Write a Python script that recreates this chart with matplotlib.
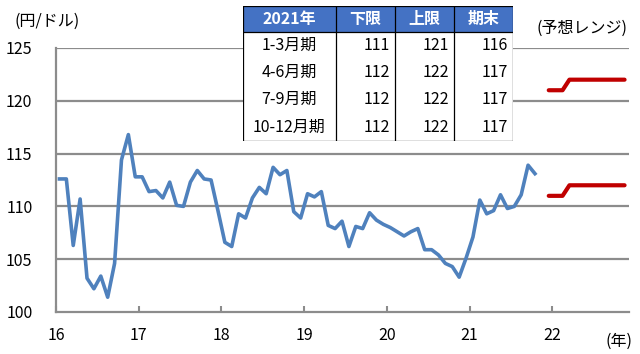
import matplotlib.pyplot as plt
from matplotlib.patches import Rectangle
import numpy as np

plt.rcParams['font.family'] = ['Noto Sans CJK JP', 'DejaVu Sans']

# monthly USD/JPY from Jan 2016 (year = 16 + month/12)
usdjpy = [112.6, 112.6, 106.3, 110.7, 103.2, 102.2, 103.4, 101.4, 104.6, 114.4,
          116.8, 112.8, 112.8, 111.4, 111.5, 110.8, 112.3, 110.1, 110.0, 112.3,
          113.4, 112.6, 112.5, 109.6, 106.6, 106.2, 109.3, 108.9, 110.8, 111.8,
          111.2, 113.7, 113.0, 113.4, 109.5, 108.9, 111.2, 110.9, 111.4, 108.2,
          107.9, 108.6, 106.2, 108.1, 107.9, 109.4, 108.7, 108.3, 108.0, 107.6,
          107.2, 107.6, 107.9, 105.9, 105.9, 105.4, 104.6, 104.3, 103.3, 105.1,
          107.1, 110.6, 109.3, 109.6, 111.1, 109.8, 110.0, 111.1, 113.9, 113.1]

# forecast range, Dec 2021 - Nov 2022
fc_start = 71
fc_upper = [121, 121, 121, 122, 122, 122, 122, 122, 122, 122, 122, 122]
fc_lower = [111, 111, 111, 112, 112, 112, 112, 112, 112, 112, 112, 112]

# table
tbl_header = ["2021年", "下限", "上限", "期末"]
tbl_rows = ["1-3月期", "4-6月期", "7-9月期", "10-12月期"]
tbl_low = [111, 112, 112, 112]
tbl_high = [121, 122, 122, 122]
tbl_end = [116, 117, 117, 117]

x_hist = 16 + (np.arange(len(usdjpy)) + 0.5) / 12
x_fc = 16 + (np.arange(fc_start, fc_start + len(fc_upper)) + 0.5) / 12

fig = plt.figure(figsize=(6.4, 3.54), dpi=100)
ax = fig.add_axes([56 / 640, 1 - 312 / 354, 573 / 640, 264 / 354])

grid_c = "#8c8c8c"
for v in [105, 110, 115, 120, 125]:
    ax.axhline(v, color=grid_c, lw=1.6, zorder=1)

ax.plot(x_hist, usdjpy, color="#4f81bd", lw=2.6, solid_joinstyle="round", zorder=3)
ax.plot(x_fc, fc_upper, color="#c00000", lw=3.0, solid_capstyle="round", zorder=3)
ax.plot(x_fc, fc_lower, color="#c00000", lw=3.0, solid_capstyle="round", zorder=3)

ax.set_xlim(16, 16 + 573 / 82.7)
ax.set_ylim(100, 125)
ax.set_yticks([100, 105, 110, 115, 120, 125])
ax.set_xticks(range(16, 23))
ax.tick_params(axis="y", length=0, pad=17, labelsize=11.5)
ax.tick_params(axis="x", direction="in", length=4, width=1.5, color=grid_c, pad=11, labelsize=11.5)
for s in ["top", "right"]:
    ax.spines[s].set_visible(False)
for s in ["left", "bottom"]:
    ax.spines[s].set_color(grid_c)
    ax.spines[s].set_linewidth(1.6)

fig.text(15 / 640, 1 - 21 / 354, "(円/ドル)", fontsize=11.5, va="center", ha="left")
fig.text(582 / 640, 1 - 28 / 354, "(予想レンジ)", fontsize=11.5, va="center", ha="center")
fig.text(619 / 640, 1 - 341 / 354, "(年)", fontsize=11.5, va="center", ha="center")

# table drawn in pixel units
tax = fig.add_axes([243 / 640, 1 - 141 / 354, 270 / 640, 135 / 354])
tax.set_xlim(0, 270)
tax.set_ylim(135, 0)
tax.axis("off")
tax.add_patch(Rectangle((0, 0), 270, 135, facecolor="white", edgecolor="none"))
tax.add_patch(Rectangle((0, 0), 270, 26, facecolor="#4472c4", edgecolor="none"))
col_edges = [0, 93, 152, 211, 270]
row_edges = [0, 26, 53, 80, 107, 135]
for c in col_edges:
    tax.plot([c, c], [0, 135], color="black", lw=0.9)
for r in [0, 26, 135]:
    tax.plot([0, 270], [r, r], color="black", lw=0.9)

for i, h in enumerate(tbl_header):
    tax.text((col_edges[i] + col_edges[i + 1]) / 2, 13, h, color="white",
             fontweight="bold", fontsize=11.5, ha="center", va="center")
for j, name in enumerate(tbl_rows):
    yc = (row_edges[j + 1] + row_edges[j + 2]) / 2
    tax.text(46.5, yc, name, fontsize=11.5, ha="center", va="center")
    for k, val in enumerate([tbl_low[j], tbl_high[j], tbl_end[j]]):
        tax.text(col_edges[k + 2] - 5, yc, str(val), fontsize=11.5, ha="right", va="center")

fig.savefig("out.png", dpi=100)
